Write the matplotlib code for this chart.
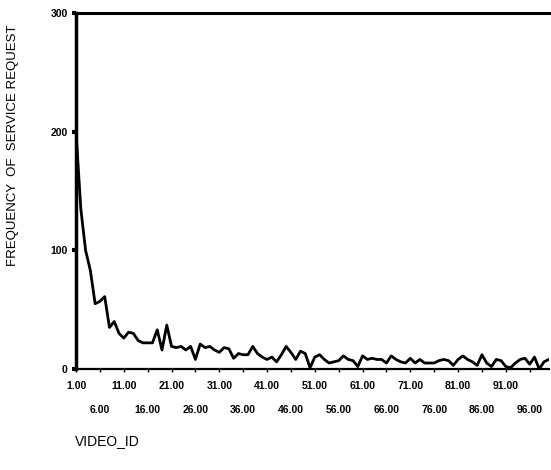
import matplotlib.pyplot as plt

plt.rcParams['font.family'] = ['Liberation Sans', 'DejaVu Sans']

video_id = list(range(1, 101))
frequency = [
    200, 135, 100, 83, 55, 57, 61, 35, 40, 30,
    26, 31, 30, 24, 22, 22, 22, 33, 16, 37,
    19, 18, 19, 16, 19, 8, 21, 18, 19, 16,
    14, 18, 17, 9, 13, 12, 12, 19, 13, 10,
    8, 10, 6, 12, 19, 14, 8, 15, 13, 1,
    10, 12, 8, 5, 6, 7, 11, 8, 7, 2,
    11, 8, 9, 8, 8, 5, 11, 8, 6, 5,
    9, 5, 8, 5, 5, 5, 7, 8, 7, 3,
    8, 11, 8, 6, 3, 12, 5, 2, 8, 7,
    2, 1, 5, 8, 9, 4, 10, 0, 6, 8,
]
y_ticks = [0, 100, 200, 300]
x_major = [1, 11, 21, 31, 41, 51, 61, 71, 81, 91]
x_minor = [6, 16, 26, 36, 46, 56, 66, 76, 86, 96]

fig = plt.figure(figsize=(5.51, 4.70), dpi=100)
ax = fig.add_axes([0.138, 0.215, 0.858, 0.757])

ax.plot(video_id, frequency, color='black', linewidth=2.0)

ax.set_xlim(1, 100)
ax.set_ylim(0, 300)

ax.spines['right'].set_visible(False)
ax.spines['left'].set_linewidth(2.5)
ax.spines['top'].set_linewidth(2.2)
ax.spines['bottom'].set_linewidth(1.6)

ax.set_yticks(y_ticks)
ax.set_yticklabels([str(v) for v in y_ticks], fontsize=7.5, fontweight='bold')
ax.tick_params(axis='y', length=3, width=3, pad=3)

ax.set_xticks(x_major)
ax.set_xticklabels(['%.2f' % v for v in x_major], fontsize=7.5, fontweight='bold')
ax.set_xticks(x_minor, minor=True)
ax.set_xticklabels(['%.2f' % v for v in x_minor], minor=True,
                   fontsize=7.5, fontweight='bold')
ax.tick_params(axis='x', which='major', length=2, width=1, pad=7)
ax.tick_params(axis='x', which='minor', length=2, width=1, pad=24)

fig.text(0.023, 0.69, 'FREQUENCY  OF  SERVICE REQUEST', rotation=90,
         ha='center', va='center', fontsize=9.5)
fig.text(0.136, 0.062, 'VIDEO_ID', ha='left', va='center', fontsize=10)

fig.savefig('out.png', dpi=100)
